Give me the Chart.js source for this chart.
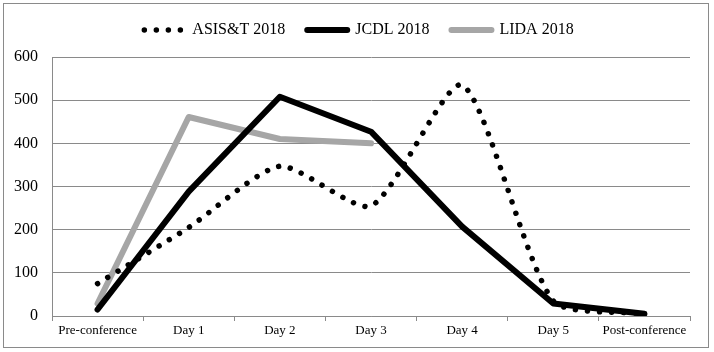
<!DOCTYPE html>
<html>
<head>
<meta charset="utf-8">
<script src="https://cdn.jsdelivr.net/npm/chart.js@4.4.1/dist/chart.umd.min.js"></script>
<style>
  body { margin: 0; background: #fff; }
  canvas { display: block; }
</style>
</head>
<body>
<canvas id="chart" width="714" height="352"></canvas>
<script>
const categories = ["Pre-conference", "Day 1", "Day 2", "Day 3", "Day 4", "Day 5", "Post-conference"];
const asist2018 = [75, 205, 347, 255, 535, 35, 5];
const jcdl2018 = [15, 288, 508, 427, 207, 29, 5];
const lida2018 = [29, 461, 410, 400, null, null, null];
const yMin = 0;
const yMax = 600;
const yStep = 100;

const serif = "'Liberation Serif', 'Times New Roman', serif";
const gridColor = "#8a8a8a";

// picture frame round the whole chart
const framePlugin = {
  id: "frame",
  beforeDraw: (chart) => {
    let ctx = chart.ctx;
    ctx.save();
    ctx.fillStyle = "#fff";
    ctx.fillRect(0, 0, chart.width, chart.height);
    ctx.strokeStyle = "#8a8a8a";
    ctx.lineWidth = 1;
    ctx.strokeRect(3.5, 3.5, chart.width - 9, chart.height - 8);
    ctx.restore();
  },
};

// room under the legend down to the plot, and legend nudged right a bit
const legendSpace = {
  id: "legendSpace",
  beforeInit: (chart) => {
    let fit = chart.legend.fit;
    chart.legend.fit = function () {
      fit.bind(chart.legend)();
      this.height = 57;
    };
  },
  afterLayout: (chart) => {
    chart.legend.left += 14;
    chart.legend.right += 14;
  },
};

let chartCanvas = document.querySelector("#chart");

new Chart(chartCanvas, {
  type: "line",
  data: {
    labels: categories,
    datasets: [
      {
        label: "ASIS&T 2018",
        data: asist2018,
        borderColor: "#000",
        borderWidth: 5.5,
        borderDash: [0.01, 12],
        borderCapStyle: "round",
        tension: 0.22,
        pointRadius: 0,
      },
      {
        label: "JCDL 2018",
        data: jcdl2018,
        borderColor: "#000",
        borderWidth: 6,
        borderCapStyle: "round",
        borderJoinStyle: "round",
        pointRadius: 0,
      },
      {
        label: "LIDA 2018",
        data: lida2018,
        borderColor: "#a6a6a6",
        borderWidth: 6,
        borderCapStyle: "round",
        borderJoinStyle: "round",
        pointRadius: 0,
      },
    ],
  },
  options: {
    responsive: false,
    animation: false,
    devicePixelRatio: 1,
    layout: {
      padding: { left: 0, right: 24, top: 0, bottom: 0 },
    },
    plugins: {
      tooltip: { enabled: false },
      legend: {
        position: "top",
        labels: {
          usePointStyle: true,
          pointStyleWidth: 40,
          padding: 22,
          color: "#000",
          font: { family: serif, size: 16 },
          generateLabels: (chart) =>
            chart.data.datasets.map((ds, i) => ({
              text: ds.label,
              strokeStyle: ds.borderColor,
              fillStyle: ds.borderColor,
              lineWidth: ds.borderWidth,
              lineDash: ds.borderDash || [],
              lineCap: "round",
              pointStyle: "line",
              datasetIndex: i,
              hidden: false,
            })),
        },
      },
    },
    scales: {
      x: {
        type: "category",
        offset: true,
        afterFit: (scale) => {
          scale.height = 36;
        },
        grid: {
          offset: true,
          drawOnChartArea: false,
          drawTicks: true,
          tickLength: 5,
          color: gridColor,
        },
        border: { display: true, color: gridColor },
        ticks: {
          color: "#000",
          font: { family: serif, size: 13 },
          padding: 2,
          maxRotation: 0,
          autoSkip: false,
        },
      },
      y: {
        min: yMin,
        max: yMax,
        afterFit: (scale) => {
          scale.width = 52;
        },
        grid: {
          color: gridColor,
          drawTicks: false,
        },
        border: { display: true, color: gridColor },
        ticks: {
          stepSize: yStep,
          color: "#000",
          padding: 14,
          font: { family: serif, size: 16 },
        },
      },
    },
  },
  plugins: [framePlugin, legendSpace],
});
</script>
</body>
</html>
